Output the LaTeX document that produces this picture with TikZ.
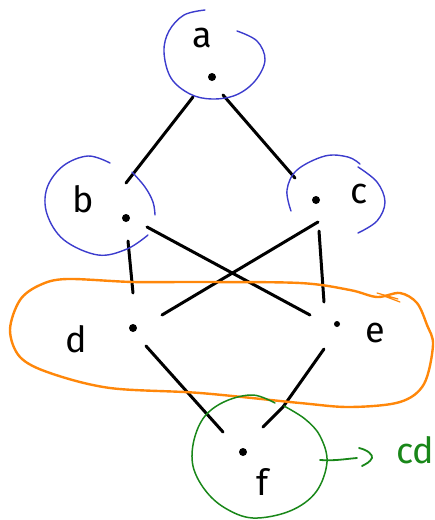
\documentclass[tikz,border=0pt]{standalone}
\usepackage{fontspec}
\setmainfont{Fira Sans}
\definecolor{ringblue}{RGB}{60,60,205}
\definecolor{ringorange}{RGB}{255,135,10}
\definecolor{ringgreen}{RGB}{25,135,25}
\begin{document}
\begin{tikzpicture}[x=1pt,y=-1pt,
  edge/.style={line width=3pt,line cap=round,line join=round},
  dot/.style={circle,fill=black,inner sep=0pt,minimum size=8pt},
  lab/.style={anchor=base west,inner sep=0pt,font=\fontsize{36}{40}\selectfont},
  bluering/.style={draw=ringblue,line width=1.4pt,line cap=round},
  orangering/.style={draw=ringorange,line width=2.4pt,line cap=round,line join=round},
  greenring/.style={draw=ringgreen,line width=1.5pt,line cap=round,line join=round}]
\useasboundingbox (0,0) rectangle (435,520);

% vertices
\node[dot] (a) at (212,77) {};
\node[dot] (b) at (126,218) {};
\node[dot] (c) at (316,200) {};
\node[dot] (d) at (133,328) {};
\node[dot,minimum size=6pt] (e) at (337,324) {};
\node[dot] (f) at (243,452) {};

% vertex labels
\node[lab] (la) at (192,47) {a};
\node[lab] (lb) at (72,212) {b};
\node[lab] (lc) at (350,203) {c};
\node[lab] (ld) at (65,352) {d};
\node[lab] (le) at (365,342) {e};
\node[lab] (lf) at (256,495) {f};

% ends of the hand-drawn edges
\coordinate (ab1) at (193,97);  \coordinate (ab2) at (126,183);
\coordinate (ac1) at (223,95);  \coordinate (ac2) at (295,178);
\coordinate (bd1) at (128,241); \coordinate (bd2) at (133,293);
\coordinate (be1) at (147,227); \coordinate (be2) at (310,315);
\coordinate (cd1) at (318,222); \coordinate (cd2) at (162,315);
\coordinate (ce1) at (319,231); \coordinate (ce2) at (324,302);
\coordinate (df1) at (146,346); \coordinate (df2) at (223,432);
\coordinate (ef1) at (324,349); \coordinate (efk) at (283,407);
\coordinate (ef2) at (263,427);

% edges
\draw[edge] (ab1) -- (ab2);
\draw[edge] (ac1) -- (ac2);
\draw[edge] (bd1) -- (bd2);
\draw[edge] (be1) -- (be2);
\draw[edge] (cd1) -- (cd2);
\draw[edge] (ce1) -- (ce2);
\draw[edge] (df1) -- (df2);
\draw[edge] (ef1) -- (efk) -- (ef2);

% blue rings around a, b and c
\draw[bluering] plot[smooth,tension=0.6] coordinates {(205,10) (184,15) (169,31) (164,52) (171,78) (190,94) (212,99) (236,95) (255,81) (265,60) (257,41) (237,31)};
\draw[bluering] plot[smooth,tension=0.6] coordinates {(110,163) (88,156) (63,166) (47,188) (47,214) (64,240) (98,255) (127,249) (148,235)};
\draw[bluering] plot[smooth,tension=0.6] coordinates {(132,172) (145,187) (153,202) (155,215)};
\draw[bluering] plot[smooth,tension=0.6] coordinates {(291,211) (287,190) (297,170) (325,156) (348,157) (360,164)};
\draw[bluering] plot[smooth,tension=0.6] coordinates {(358,167) (377,182) (385,202) (377,221) (358,233)};

% orange loop around d and e
\draw[orangering] plot[smooth cycle,tension=0.55] coordinates {(67,279) (133,282) (200,282) (300,283) (350,290) (377,297) (400,293) (417,303) (427,325) (433,345) (424,384) (400,402) (350,407) (300,403) (200,393) (110,388) (50,373) (20,357) (10,330) (20,300) (40,285)};
\draw[ringorange,line width=1.2pt,line cap=round] (377,293) -- (398,299) (384,296) -- (400,302);

% green ring around f
\draw[greenring] plot[smooth,tension=0.6] coordinates {(275,403) (253,395) (226,401) (205,416) (194,440) (193,466) (205,490) (225,508) (253,518) (290,511) (316,492) (327,462) (320,436) (305,419) (284,406)};

% green note
\coordinate (arr1) at (320,460);
\coordinate (arr2) at (357,458);
\draw[greenring,line width=1.8pt] (arr1) .. controls (335,461) and (345,459) .. (arr2);
\draw[greenring,line width=1.8pt] (359,448) .. controls (368,450) and (373,455) .. (372,458) .. controls (370,462) and (366,464) .. (362,466);
\node[lab,text=ringgreen] (note) at (396,463) {cd};
\end{tikzpicture}
\end{document}
